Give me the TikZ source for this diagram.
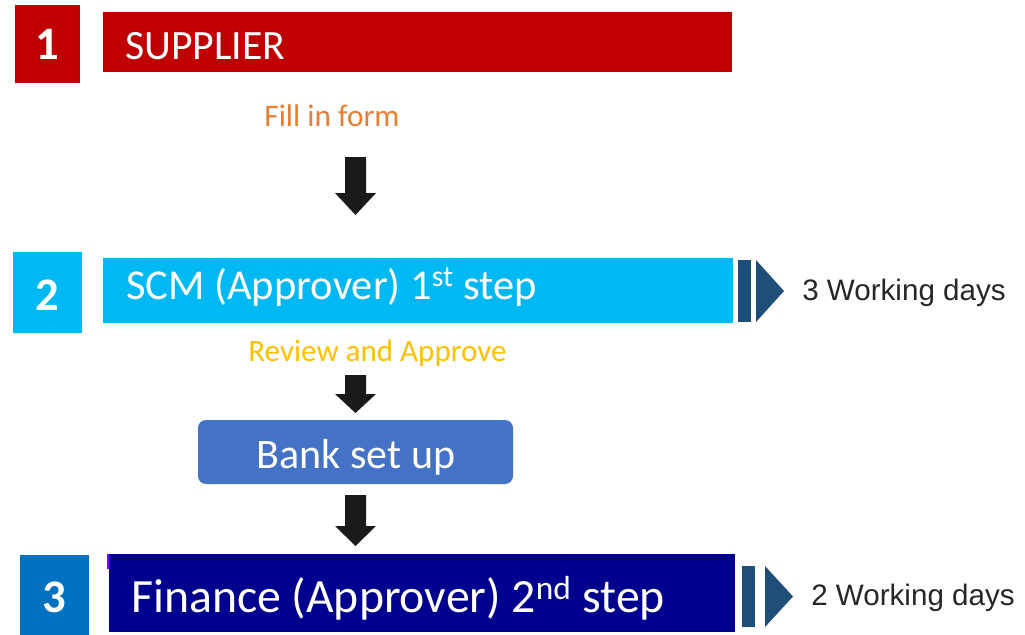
\documentclass[tikz,border=0pt]{standalone}
\usepackage{fontspec}
\setmainfont{Carlito}
\newfontfamily\wdfont{Liberation Sans}
\usetikzlibrary{calc}
\definecolor{supred}{HTML}{C00000}
\definecolor{scmblue}{HTML}{00B9F2}
\definecolor{numblue}{HTML}{0070C0}
\definecolor{finnavy}{HTML}{00008F}
\definecolor{bankblue}{HTML}{4472C4}
\definecolor{chevblue}{HTML}{1F4E79}
\definecolor{fillorange}{HTML}{ED7D31}
\definecolor{revyellow}{HTML}{FFC000}
\definecolor{markpurple}{HTML}{7F00FF}
\definecolor{arrowblack}{HTML}{1A1A1A}
\definecolor{wdgray}{HTML}{262626}
\tikzset{
  box/.style={draw=none,inner sep=0pt,outer sep=0pt},
  boxtext/.style={inner sep=0pt,anchor=base west,text=white,font=\fontsize{31.3}{31.3}\selectfont},
  numtext/.style={inner sep=0pt,anchor=base,text=white,font=\bfseries\fontsize{35}{35}\selectfont},
  steplabel/.style={inner sep=0pt,anchor=base,font=\fontsize{23.3}{23.3}\selectfont},
  daystext/.style={inner sep=0pt,anchor=base west,text=wdgray,font=\wdfont\fontsize{22.2}{22.2}\selectfont},
  blockarrow/.style={fill=arrowblack,draw=none},
  chev/.style={fill=chevblue,draw=none}
}
\newcommand{\blockarr}[3]{% top coord, bottom coord, head length
  \fill[blockarrow] ($(#1)+(-10.5,0)$) -- ($(#1)+(10.5,0)$) -- ($(#2)+(10.5,-#3)$) -- ($(#2)+(20.5,-#3)$) -- (#2) -- ($(#2)+(-20.5,-#3)$) -- ($(#2)+(-10.5,-#3)$) -- cycle;}
\begin{document}
\begin{tikzpicture}[x=0.75pt,y=-0.75pt]
\useasboundingbox (0,0) rectangle (1025,635);
% row 1
\fill[supred] (15,5) rectangle (80,83);
\node[numtext] (n1t) at (47.5,60) {1};
\fill[supred] (103,12) rectangle (732,72);
\node[boxtext] (suptext) at (125,60) {SUPPLIER};
\node[steplabel,text=fillorange,font=\fontsize{23.5}{23.5}\selectfont] (fill) at (332,127) {Fill in form};
% arrow 1
\coordinate (a1t) at (355.5,157);
\coordinate (a1b) at (355.5,215);
\blockarr{a1t}{a1b}{22}
% row 2
\fill[scmblue] (13,252) rectangle (82,333);
\node[numtext] (n2t) at (47.5,310) {2};
\fill[scmblue] (103,258) rectangle (733,323);
\node[boxtext,font=\fontsize{31.9}{31.9}\selectfont] (scmtext) at (126,299) {SCM (Approver) 1\textsuperscript{st} step};
\fill[chev] (738,260) rectangle (751,322);
\fill[chev] (756,260) -- (784,291) -- (756,322) -- cycle;
\node[daystext] (d1) at (802,300) {3 Working days};
\node[steplabel,text=revyellow] (rev) at (377.5,361) {Review and Approve};
% arrow 2
\coordinate (a2t) at (355.5,375);
\coordinate (a2b) at (355.5,413);
\blockarr{a2t}{a2b}{19}
% bank
\node[box,fill=bankblue,rounded corners=6pt,minimum width=236.25pt,minimum height=48pt,anchor=north west] (bank) at (198,420) {};
\node[inner sep=0pt,anchor=base,text=white,font=\fontsize{31.5}{31.5}\selectfont] (banktext) at (356,468) {Bank set up};
% arrow 3
\coordinate (a3t) at (355.5,495);
\coordinate (a3b) at (355.5,546);
\blockarr{a3t}{a3b}{20}
% row 3
\fill[numblue] (20,555) rectangle (89,635);
\node[numtext] (n3t) at (54.5,612) {3};
\fill[markpurple] (107,554) rectangle (110,569);
\fill[finnavy] (109,554) rectangle (735,632);
\node[boxtext,font=\fontsize{35.8}{35.8}\selectfont] (fintext) at (131,612) {Finance (Approver) 2\textsuperscript{nd} step};
\fill[chev] (742,566) rectangle (755,627);
\fill[chev] (765,566) -- (793,596.5) -- (765,627) -- cycle;
\node[daystext] (d2) at (811,605) {2 Working days};
\end{tikzpicture}
\end{document}
